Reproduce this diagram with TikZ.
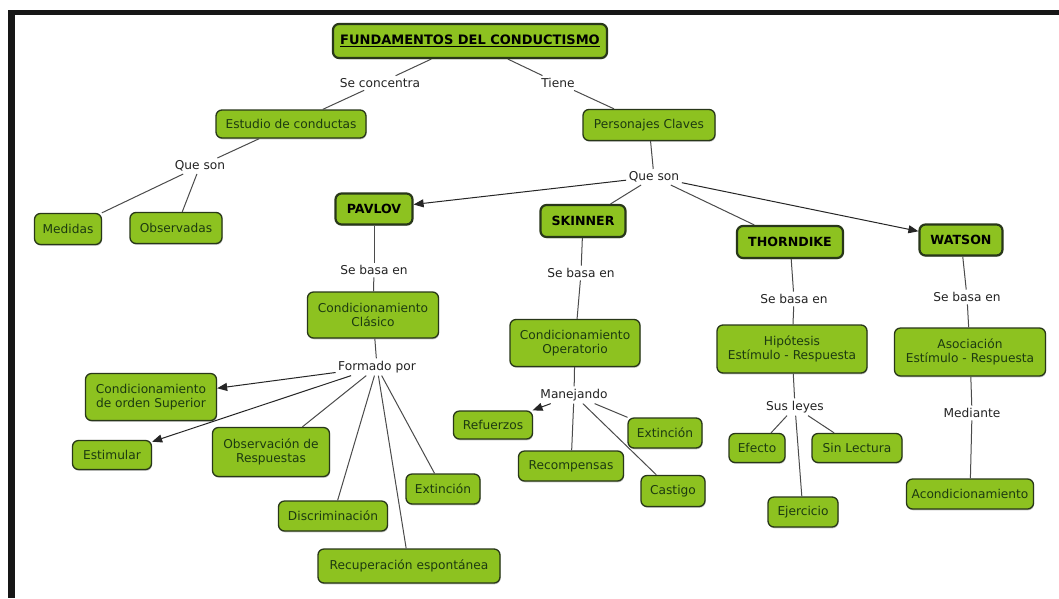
\documentclass[tikz,border=0pt]{standalone}
\usepackage{fontspec}
\setmainfont{DejaVu Sans}
\usetikzlibrary{arrows.meta,shadows}
\definecolor{boxgreen}{RGB}{141,194,32}
\definecolor{boxline}{RGB}{40,55,25}
\definecolor{boxtext}{RGB}{28,58,16}
\definecolor{linkgray}{RGB}{75,75,75}
\definecolor{labeltext}{RGB}{35,35,35}
\definecolor{framecol}{RGB}{22,22,22}
\begin{document}
\begin{tikzpicture}[x=1pt,y=-1pt,
 concept/.style={draw=boxline, line width=1.3pt, fill=boxgreen, rounded corners=6pt,
   text=boxtext, font=\fontsize{12.2}{14}\selectfont, align=center, inner sep=0pt,
   drop shadow={shadow xshift=0.6pt, shadow yshift=-1.3pt, opacity=0.45}},
 keynode/.style={concept, line width=2.2pt, text=black, font=\bfseries\fontsize{12.6}{14}\selectfont},
 link/.style={text=labeltext, font=\fontsize{12.2}{14}\selectfont, inner sep=2.5pt},
 conn/.style={draw=linkgray, line width=1pt},
 arr/.style={draw=black!85, line width=1pt, -{Triangle[length=10pt,width=8pt]}}
]
\useasboundingbox (0,0) rectangle (1059,598);
\fill[white] (0,0) rectangle (1059,598);
% frame
\fill[framecol] (8,10) rectangle (1059,15);
\fill[framecol] (8,10) rectangle (15,598);

% nodes
\node[keynode, minimum width=274, minimum height=34, font=\bfseries\fontsize{13}{15}\selectfont] (fund) at (470,41) {\underline{FUNDAMENTOS DEL CONDUCTISMO}};
\node[link] (conc) at (380,83) {Se concentra};
\node[link] (tiene) at (558,83) {Tiene};
\node[concept, minimum width=150, minimum height=28] (estudio) at (291,124) {Estudio de conductas};
\node[concept, minimum width=132, minimum height=31] (pers) at (649,125) {Personajes Claves};
\node[link] (qsl) at (200,166) {Que son};
\node[link] (qsr) at (654,177) {Que son};
\node[concept, minimum width=67, minimum height=31] (medidas) at (68,229) {Medidas};
\node[concept, minimum width=92, minimum height=31] (observadas) at (176,228) {Observadas};

\node[keynode, minimum width=77, minimum height=31] (pavlov) at (374,209) {PAVLOV};
\node[keynode, minimum width=85, minimum height=32] (skinner) at (583,221) {SKINNER};
\node[keynode, minimum width=106, minimum height=32] (thorn) at (790,242) {THORNDIKE};
\node[keynode, minimum width=83, minimum height=31] (watson) at (961,240) {WATSON};

\node[link] (sbp) at (374,270) {Se basa en};
\node[link] (sbs) at (581,273) {Se basa en};
\node[link] (sbt) at (794,299) {Se basa en};
\node[link] (sbw) at (967,297) {Se basa en};

\node[concept, minimum width=131, minimum height=46] (clasico) at (373,315) {Condicionamiento\\Clásico};
\node[concept, minimum width=130, minimum height=47] (operat) at (575,343) {Condicionamiento\\Operatorio};
\node[concept, minimum width=150, minimum height=48] (hipot) at (792,349) {Hipótesis\\Estímulo - Respuesta};
\node[concept, minimum width=151, minimum height=48] (asoc) at (970,352) {Asociación\\Estímulo - Respuesta};

\node[link] (formado) at (377,367) {Formado por};
\node[concept, minimum width=131, minimum height=47] (superior) at (151,397) {Condicionamiento\\de orden Superior};
\node[concept, minimum width=79, minimum height=29] (estimular) at (112,455) {Estimular};
\node[concept, minimum width=117, minimum height=49] (observ) at (271,452) {Observación de\\Respuestas};
\node[concept, minimum width=74, minimum height=30] (extp) at (443,489) {Extinción};
\node[concept, minimum width=109, minimum height=30] (discr) at (333,516) {Discriminación};
\node[concept, minimum width=182, minimum height=34] (recup) at (409,566) {Recuperación espontánea};

\node[link] (manej) at (574,395) {Manejando};
\node[concept, minimum width=79, minimum height=28] (refuerzos) at (493,425) {Refuerzos};
\node[concept, minimum width=74, minimum height=30] (exts) at (665,433) {Extinción};
\node[concept, minimum width=105, minimum height=30] (recomp) at (571,466) {Recompensas};
\node[concept, minimum width=64, minimum height=31] (castigo) at (673,491) {Castigo};

\node[link] (leyes) at (795,407) {Sus leyes};
\node[concept, minimum width=56, minimum height=29] (efecto) at (757,448) {Efecto};
\node[concept, minimum width=90, minimum height=29] (sinlect) at (857,448) {Sin Lectura};
\node[concept, minimum width=70, minimum height=30] (ejerc) at (803,512) {Ejercicio};

\node[link] (mediante) at (972,413) {Mediante};
\node[concept, minimum width=127, minimum height=30] (acond) at (970,494) {Acondicionamiento};

% connectors
\draw[conn] (fund) -- (conc);
\draw[conn] (conc) -- (estudio);
\draw[conn] (fund) -- (tiene);
\draw[conn] (tiene) -- (pers);
\draw[conn] (estudio) -- (qsl);
\draw[conn] (qsl) -- (medidas);
\draw[conn] (qsl) -- (observadas);
\draw[conn] (pers) -- (qsr);
\draw[arr] (qsr) -- (pavlov);
\draw[conn] (qsr) -- (skinner);
\draw[conn] (qsr) -- (thorn);
\draw[arr] (qsr) -- (watson);

\draw[conn] (pavlov) -- (sbp);
\draw[conn] (sbp) -- (clasico);
\draw[conn] (skinner) -- (sbs);
\draw[conn] (sbs) -- (operat);
\draw[conn] (thorn) -- (sbt);
\draw[conn] (sbt) -- (hipot);
\draw[conn] (watson) -- (sbw);
\draw[conn] (sbw) -- (asoc);

\draw[conn] (clasico) -- (formado);
\draw[arr] (formado) -- (superior);
\draw[arr] (formado) -- (estimular);
\draw[conn] (formado) -- (observ);
\draw[conn] (formado) -- (discr);
\draw[conn] (formado) -- (recup);
\draw[conn] (formado) -- (extp);

\draw[conn] (operat) -- (manej);
\draw[arr] (manej) -- (refuerzos);
\draw[conn] (manej) -- (recomp);
\draw[conn] (manej) -- (exts);
\draw[conn] (manej) -- (castigo);

\draw[conn] (hipot) -- (leyes);
\draw[conn] (leyes) -- (efecto);
\draw[conn] (leyes) -- (sinlect);
\draw[conn] (leyes) -- (ejerc);

\draw[conn] (asoc) -- (mediante);
\draw[conn] (mediante) -- (acond);
\end{tikzpicture}
\end{document}
